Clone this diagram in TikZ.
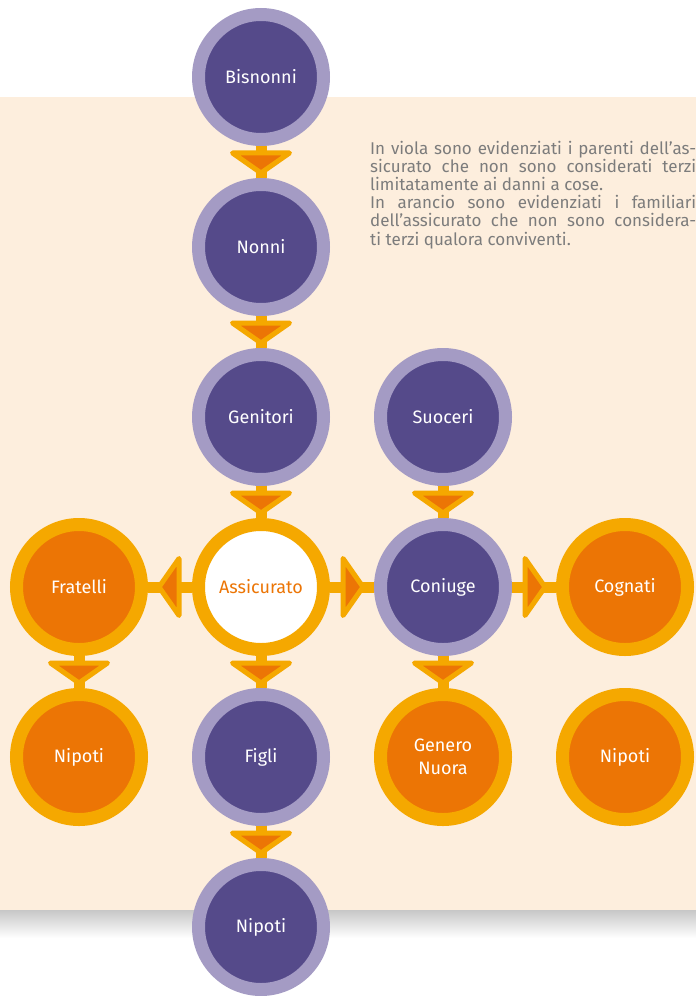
\documentclass[tikz,border=0pt]{standalone}
\usepackage{fontspec}
\setmainfont{Fira Sans}
\usetikzlibrary{shapes.geometric, calc}
\definecolor{pviola}{HTML}{554A8A}
\definecolor{pviolachiaro}{HTML}{A49BC4}
\definecolor{parancio}{HTML}{EC7505}
\definecolor{pgiallo}{HTML}{F5A800}
\definecolor{pcrema}{HTML}{FDEEDD}
\definecolor{ptesto}{HTML}{7C7C7C}

\tikzset{
  parente/.style={circle, minimum size=125pt, inner sep=0pt, line width=13pt,
    fill=pviola, draw=pviolachiaro, text=white, align=center,
    font=\fontsize{18}{23}\selectfont},
  familiare/.style={parente, fill=parancio, draw=pgiallo},
  barra/.style={line width=11pt, draw=pgiallo},
  freccia/.style={isosceles triangle, isosceles triangle stretches,
    minimum height=20pt, minimum width=57pt, inner sep=0pt,
    fill=parancio, draw=pgiallo, line width=5pt, line join=round,
    sloped, allow upside down}
}
\newcommand{\legame}[2]{\draw[barra] (#1) -- node[freccia] {} (#2);}

\begin{document}
\begin{tikzpicture}[x=1pt, y=-1pt]
    \useasboundingbox (0,0) rectangle (696,996);
    \fill[pcrema] (0,97) rectangle (696,910);
    \shade[top color=black!22, bottom color=white] (0,910) rectangle (696,938);

    % colonna dell'assicurato
    \node[parente] (bisnonni) at (261,77) {Bisnonni};
    \node[parente] (nonni) at (261,247) {Nonni};
    \node[parente] (genitori) at (261,417) {Genitori};
    \node[parente, fill=white, draw=pgiallo, text=parancio] (assicurato) at (261,587) {Assicurato};
    \node[parente] (figli) at (261,757) {Figli};
    \node[parente] (nipotifigli) at (261,927) {Nipoti};

    % coniuge
    \node[parente] (suoceri) at (443,417) {Suoceri};
    \node[parente] (coniuge) at (443,587) {Coniuge};
    \node[familiare] (genero) at (443,757) {Genero\\Nuora};

    % fratelli e cognati
    \node[familiare] (fratelli) at (79,587) {Fratelli};
    \node[familiare] (nipotifratelli) at (79,757) {Nipoti};
    \node[familiare] (cognati) at (625,587) {Cognati};
    \node[familiare] (nipoticognati) at (625,757) {Nipoti};

    \legame{bisnonni}{nonni}
    \legame{nonni}{genitori}
    \legame{genitori}{assicurato}
    \legame{assicurato}{figli}
    \legame{figli}{nipotifigli}
    \legame{suoceri}{coniuge}
    \legame{coniuge}{genero}
    \legame{fratelli}{nipotifratelli}
    \legame{assicurato}{fratelli}
    \legame{assicurato}{coniuge}
    \legame{coniuge}{cognati}

    \node[anchor=base west, inner sep=0pt, text width=326pt, align=justify,
      text=ptesto, font=\fontsize{17}{18.2}\selectfont] (nota) at (370,154)
      {In viola sono evidenziati i parenti dell’as-\linebreak
       sicurato che non sono considerati terzi\linebreak
       limitatamente ai danni a cose.\\
       In arancio sono evidenziati i familiari\linebreak
       dell’assicurato che non sono considera-\linebreak
       ti terzi qualora conviventi.};
\end{tikzpicture}
\end{document}
